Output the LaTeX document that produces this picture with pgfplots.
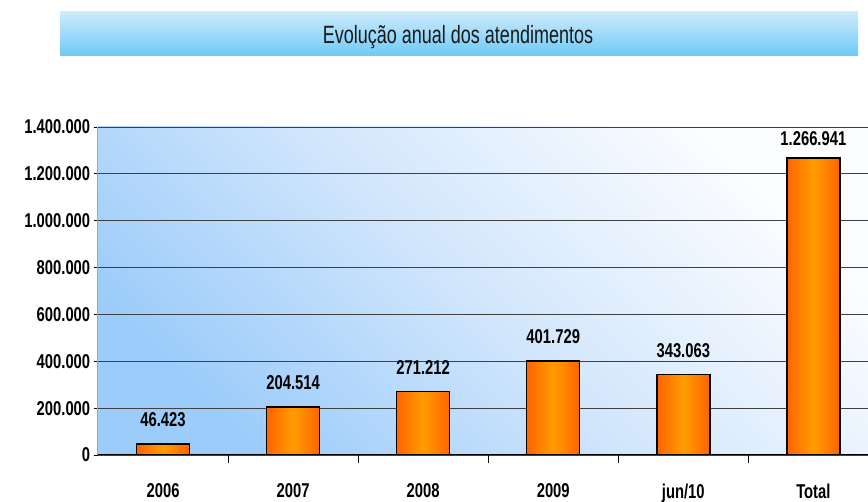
\documentclass[border=0pt]{standalone}
\usepackage{fontspec}
\setmainfont{Liberation Sans}
\newfontfamily\narrow{Liberation Sans}[FakeStretch=0.74]
\newfontfamily\titlefont{Liberation Sans}[FakeStretch=0.72]
\usepackage{pgfplots}
\pgfplotsset{compat=1.18}
\definecolor{barEdge}{HTML}{FF6400}
\definecolor{barMid}{HTML}{FF9C00}
\definecolor{bgBlue}{HTML}{9CCCFA}
\definecolor{bgMid}{HTML}{D3E7FC}
\definecolor{bgLight}{HTML}{FCFDFF}
\definecolor{bannerTop}{HTML}{CDEBFB}
\definecolor{bannerBot}{HTML}{6CCAF8}
\newcommand\lbl{\narrow\bfseries\fontsize{20}{24}\selectfont}
\pgfplotsset{
 orangebar/.style={ybar, bar width=53pt, bar shift=0pt, draw=black, line width=1.4pt,
   left color=barEdge, right color=barEdge, middle color=barMid,
   nodes near coords, every node near coord/.append style={yshift=#1}},
 orangebar/.default=13pt,
}

\begin{document}
\begin{tikzpicture}[x=1pt,y=1pt]
\useasboundingbox (0,0) rectangle (868,502);
% title banner
\shade[top color=bannerTop, bottom color=bannerBot] (60,446) rectangle (858,490);
\node[font={\titlefont\fontsize{25}{30}\selectfont}, text=black!90] at (458,465) {Evolução anual dos atendimentos};
\begin{axis}[
 at={(98pt,47pt)}, anchor=south west,
 scale only axis, width=770pt, height=328pt,
 xmin=-0.5, xmax=5.42, ymin=0, ymax=1400000,
 axis background/.style={shade, top color=bgLight, bottom color=bgBlue, middle color=bgMid, shading angle=-45},
 axis x line*=bottom, axis y line*=left,
 x axis line style={black, line width=1pt},
 y axis line style={gray!70, line width=1pt},
 ymajorgrids, grid style={black!75, line width=0.9pt},
 ytick={0,200000,...,1400000},
 scaled y ticks=false,
 /pgf/number format/fixed,
 /pgf/number format/1000 sep={.},
 /pgf/number format/assume math mode=true,
 ytick align=outside, ytick style={black, line width=0.8pt},
 yticklabel style={font=\lbl},
 xtick={0,...,5},
 xticklabels={2006,2007,2008,2009,jun/10,Total},
 xtick align=outside,
 major x tick style={draw=none},
 xticklabel style={font=\lbl, anchor=north, yshift=-21pt},
 extra x ticks={0.5,1.5,2.5,3.5,4.5},
 extra x tick labels={},
 extra x tick style={major tick length=8pt, major x tick style={draw=black, line width=0.8pt}},
 point meta=explicit symbolic,
 every node near coord/.append style={font=\lbl, text=black},
]
\addplot[orangebar] coordinates {(0,46423) [46.423]};
\addplot[orangebar] coordinates {(1,204514) [204.514]};
\addplot[orangebar] coordinates {(2,271212) [271.212]};
\addplot[orangebar] coordinates {(3,401729) [401.729]};
\addplot[orangebar] coordinates {(4,343063) [343.063]};
\addplot[orangebar=8pt] coordinates {(5,1266941) [1.266.941]};
\end{axis}
\end{tikzpicture}
\end{document}
